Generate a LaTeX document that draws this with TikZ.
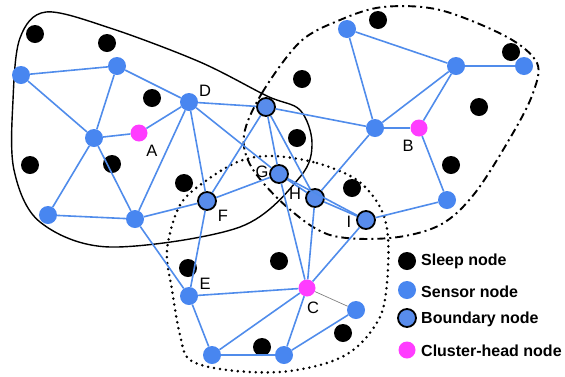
\documentclass[tikz,border=0pt]{standalone}
\usepackage{fontspec}
\setmainfont{Liberation Sans}
\definecolor{sblue}{RGB}{72,134,240}
\definecolor{bblue}{RGB}{88,140,236}
\definecolor{ebl}{RGB}{80,140,235}
\definecolor{hmag}{RGB}{255,60,255}
\begin{document}
\begin{tikzpicture}[x=1pt,y=-1pt,
  sensor/.style={circle,fill=sblue,minimum size=18pt,inner sep=0pt},
  sleepn/.style={circle,fill=black,minimum size=18pt,inner sep=0pt},
  bnd/.style={circle,fill=bblue,draw=black,line width=1.8pt,minimum size=18pt,inner sep=0pt},
  headn/.style={circle,fill=hmag,minimum size=17pt,inner sep=0pt},
  edge/.style={draw=ebl,line width=1.6pt},
  lab/.style={font=\fontsize{16.5}{16.5}\selectfont,inner sep=0pt},
  legt/.style={font=\bfseries\fontsize{16}{16}\selectfont,anchor=west,inner sep=0pt}]
\useasboundingbox (0,0) rectangle (565,376);
% hulls
\draw[line width=1.4pt] plot[smooth cycle,tension=0.55] coordinates {
 (13,100) (20,38) (46,12) (110,28) (200,62) (267,96) (300,110) (312,143)
 (300,177) (240,227) (110,247) (40,222) (14,170)};
\draw[line width=1.9pt,dash pattern=on 8pt off 4pt on 2pt off 4pt] plot[smooth cycle,tension=0.55] coordinates {
 (244,135) (262,93) (300,42) (340,20) (383,7) (440,10) (507,37) (537,63)
 (533,93) (513,133) (475,193) (440,225) (390,238) (330,235) (287,207) (252,168)};
\draw[line width=2.8pt,dash pattern=on 0pt off 6pt,line cap=round] plot[smooth cycle,tension=0.55] coordinates {
 (273,156) (317,163) (357,180) (380,207) (388,237) (387,283) (380,317) (357,347)
 (327,363) (280,372) (227,370) (190,360) (180,335) (172,290) (167,250) (180,205) (207,180) (240,161)};
% sleep nodes
\foreach \p [count=\i] in {(35,34),(107,43),(152,98),(30,165),(112,164),(184,183),(378,20),(511,52),(302,79),(479,107),(297,138),(451,165),(352,188),(188,268),(279,261),(343,333),(262,347)}
  \node[sleepn] (s\i) at \p {};
% sensor nodes
\node[sensor] (n1) at (21,75) {};
\node[sensor] (n2) at (117,66) {};
\node[sensor] (D) at (189,102) {};
\node[sensor] (n4) at (94,138) {};
\node[headn] (A) at (139,133) {};
\node[sensor] (n5) at (48,215) {};
\node[sensor] (n6) at (135,219) {};
\node[bnd] (b1) at (266,107) {};
\node[bnd] (G) at (279,174) {};
\node[bnd] (F) at (207,201) {};
\node[bnd] (H) at (315,198) {};
\node[bnd] (I) at (366,220) {};
\node[sensor] (n7) at (347,29) {};
\node[sensor] (n8) at (456,66) {};
\node[sensor] (n9) at (524,66) {};
\node[sensor] (n10) at (375,128) {};
\node[headn] (B) at (419,128) {};
\node[sensor] (n11) at (447,200) {};
\node[sensor] (E) at (189,296) {};
\node[headn] (C) at (307,288) {};
\node[sensor] (n12) at (356,310) {};
\node[sensor] (n13) at (212,355) {};
\node[sensor] (n14) at (284,355) {};
% edges
\foreach \a/\b in {n1/n2,n1/n4,n2/n4,n2/D,n4/A,A/D,n4/n5,n4/n6,n5/n6,n6/D,n6/F,n6/E,
  D/F,D/b1,D/G,b1/F,b1/G,b1/H,b1/n10,F/G,G/H,G/I,G/C,H/C,H/n10,H/I,I/C,I/n11,
  F/E,E/C,E/n13,C/n13,C/n14,n13/n14,n14/n12,n7/n10,n7/n8,n8/n10,n8/n9,n8/B,n10/B,B/n11}
  \draw[edge] (\a) -- (\b);
\draw[gray,line width=0.7pt] (C) -- (n12);
% labels
\node[lab] (lD) at (205,91) {D};
\node[lab] (lA) at (152,151) {A};
\node[lab] (lB) at (408,146) {B};
\node[lab] (lG) at (262,172) {G};
\node[lab] (lH) at (295,194) {H};
\node[lab] (lI) at (349,222) {I};
\node[lab] (lF) at (223,216) {F};
\node[lab] (lE) at (205,284) {E};
\node[lab] (lC) at (313,308) {C};
% legend
\node[sleepn] (k1) at (407,261) {};
\node[sensor] (k2) at (407,290) {};
\node[bnd] (k3) at (407,318) {};
\node[headn] (k4) at (407,350) {};
\node[legt] (t1) at (421,261) {Sleep node};
\node[legt] (t2) at (421,292) {Sensor node};
\node[legt] (t3) at (421,319) {Boundary node};
\node[legt] (t4) at (421,351) {Cluster-head node};
\end{tikzpicture}
\end{document}
